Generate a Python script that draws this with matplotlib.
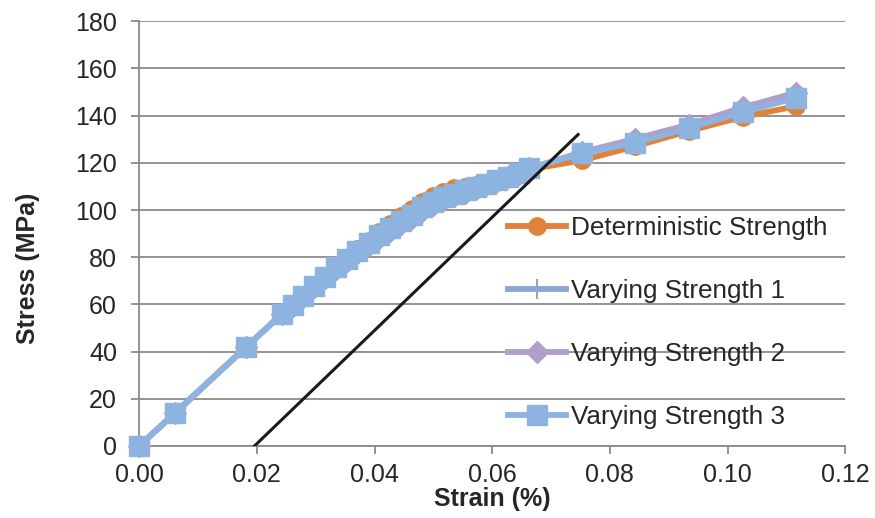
import numpy as np
import matplotlib
matplotlib.use('Agg')
import matplotlib.pyplot as plt

plt.rcParams['font.family'] = ['Liberation Sans', 'DejaVu Sans']

# strain (%) shared by all four series
strain = [0, 0.0061, 0.0182, 0.0243, 0.0261, 0.0279, 0.0298, 0.0316, 0.0335,
          0.0353, 0.0371, 0.0390, 0.0408, 0.0427, 0.0445, 0.0463, 0.0481,
          0.0499, 0.0517, 0.0535, 0.0553, 0.0572, 0.0590, 0.0608, 0.0627,
          0.0645, 0.0663, 0.0752, 0.0843, 0.0934, 0.1026, 0.1117]

# stress (MPa)
det_stress = [0, 14, 42, 56, 59.8, 63.7, 68.0, 72.0, 76.0, 79.6, 83.4, 87.0,
              90.6, 94.0, 97.5, 100.4, 103.6, 105.8, 107.8, 109.4, 109.6,
              110.4, 111.4, 112.7, 114.0, 115.4, 117.2, 121, 127, 133.5,
              139.5, 144]
vs1_stress = [0, 14, 42, 56, 59.6, 63.4, 67.6, 71.4, 75.4, 78.8, 82.4, 85.8,
              89.0, 91.8, 94.8, 97.3, 100.6, 103.0, 105.2, 106.6, 108.0,
              109.5, 111.0, 112.5, 114.0, 115.5, 117.6, 124.2, 129.0, 135.2,
              142.0, 148.3]
vs2_stress = [0, 14, 42, 56, 59.5, 63.2, 67.2, 71.0, 74.9, 78.3, 81.8, 85.1,
              88.3, 91.2, 94.0, 96.6, 99.6, 102.0, 104.2, 105.8, 107.4,
              109.0, 110.6, 112.2, 113.8, 115.4, 117.6, 124.5, 130.2, 136.2,
              143.5, 149.8]
vs3_stress = [0, 14, 42, 56, 59.7, 63.5, 67.8, 71.7, 75.7, 79.1, 82.7, 86.1,
              89.4, 92.2, 95.3, 97.7, 101.2, 103.5, 105.6, 107.0, 108.4,
              109.8, 111.2, 112.7, 114.1, 115.5, 117.6, 124, 128.5, 134.7,
              141.5, 147.6]

# offset line
offset_strain = [0.0196, 0.0746]
offset_stress = [0, 132]

xticks = [0, 0.02, 0.04, 0.06, 0.08, 0.10, 0.12]
yticks = [0, 20, 40, 60, 80, 100, 120, 140, 160, 180]

txt = '#262626'
grid_c = '#8a8a8a'

fig = plt.figure(figsize=(8.75, 5.18), dpi=100)
fig.set_facecolor('w')
ax = fig.add_axes([0.159, 0.139, 0.807, 0.820])

ax.plot(strain, det_stress, color='#e0823a', lw=4.2, marker='o', ms=12.5,
        label='Deterministic Strength', clip_on=False, zorder=3)
ax.plot(strain, vs1_stress, color='#8ba6d2', lw=4.2, marker='+', ms=14,
        mew=1.5, label='Varying Strength 1', clip_on=False, zorder=4)
ax.plot(strain, vs2_stress, color='#b09fc9', lw=4.2, marker='D', ms=11,
        label='Varying Strength 2', clip_on=False, zorder=5)
ax.plot(strain, vs3_stress, color='#8db3e0', lw=4.2, marker='s', ms=14.5,
        label='Varying Strength 3', clip_on=False, zorder=6)
ax.plot(offset_strain, offset_stress, color='#1a1a1a', lw=2.2, zorder=7)

ax.set_xlim(0, 0.12)
ax.set_ylim(0, 180)
ax.set_xticks(xticks)
ax.set_yticks(yticks)
ax.set_xticklabels(['%.2f' % v for v in xticks])
ax.yaxis.grid(True, color=grid_c, lw=1.3)
ax.set_axisbelow(True)
for s in ['top', 'right']:
    ax.spines[s].set_visible(False)
for s in ['left', 'bottom']:
    ax.spines[s].set_color(grid_c)
    ax.spines[s].set_linewidth(1.3)
ax.tick_params(axis='both', colors=grid_c, labelcolor=txt, labelsize=18,
               width=1.3, length=6)
ax.tick_params(axis='y', pad=10)
ax.tick_params(axis='x', pad=6)

ax.set_xlabel('Strain (%)', fontsize=18, fontweight='bold', color=txt)
ax.set_ylabel('Stress (MPa)', fontsize=18, fontweight='bold', color=txt)
ax.xaxis.set_label_coords(0.5, -0.097)
ax.yaxis.set_label_coords(-0.14, 0.419)

leg = ax.legend(loc='center left', bbox_to_anchor=(0.523, 0.291),
                frameon=False, fontsize=18.8, handlelength=2.2,
                handletextpad=0.2, labelspacing=1.5, borderpad=0,
                borderaxespad=0)
for t in leg.get_texts():
    t.set_color(txt)

fig.savefig('out.png', dpi=100)
